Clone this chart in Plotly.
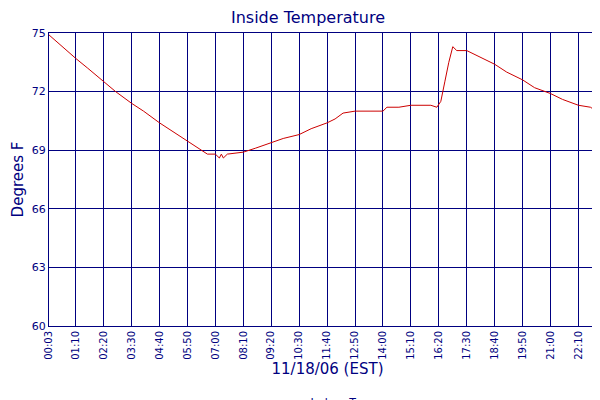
import plotly.graph_objects as go

times = ["00:03","00:30","01:10","01:40","02:20","02:50","03:30","04:00","04:40","05:10","05:50","06:20","06:40","07:00","07:10","07:15","07:20","07:30","08:10","08:40","09:20","09:50","10:30","11:00","11:40","12:00","12:20","12:50","13:30","14:00","14:10","14:40","15:10","15:40","16:00","16:15","16:25","16:35","16:45","16:55","17:05","17:30","18:00","18:40","19:10","19:50","20:20","21:00","21:30","22:10","22:40","22:55","23:15"]
temps = [74.9,74.4,73.7,73.2,72.5,72.0,71.4,71.0,70.4,70.0,69.5,69.1,68.8,68.8,68.6,68.8,68.6,68.8,68.9,69.1,69.4,69.6,69.8,70.1,70.4,70.6,70.9,71.0,71.0,71.0,71.2,71.2,71.3,71.3,71.3,71.2,71.5,72.5,73.5,74.3,74.1,74.1,73.8,73.4,73.0,72.6,72.2,71.9,71.6,71.3,71.2,71.0,71.0]
tick_labels = ["00:03","01:10","02:20","03:30","04:40","05:50","07:00","08:10","09:20","10:30","11:40","12:50","14:00","15:10","16:20","17:30","18:40","19:50","21:00","22:10","23:15"]
y_ticks = [60,63,66,69,72,75]

def mins(t):
    h, m = t.split(":")
    return int(h)*60 + int(m)

navy = "#000080"
fig = go.Figure(go.Scatter(x=[mins(t) for t in times], y=temps, mode="lines",
                           line=dict(color="#cc0000", width=1), name="Indoor Temp"))
fig.update_layout(
    width=600, height=400, margin=dict(l=41, r=2, t=25, b=82, autoexpand=False),
    paper_bgcolor="white", plot_bgcolor="white",
    font=dict(family="DejaVu Sans", color=navy, size=11),
    title=dict(text="Inside Temperature", x=0.5, xanchor="center", y=0.99, yanchor="top",
               font=dict(size=16, color=navy)),
    showlegend=True,
    legend=dict(orientation="h", x=0.5, xanchor="center", y=-0.21, yanchor="top",
                font=dict(size=11, color=navy)),
    xaxis=dict(range=[3, 1399], tickvals=[mins(t) for t in tick_labels], ticktext=tick_labels,
               tickangle=-90, tickfont=dict(size=10), showgrid=True, gridcolor=navy, gridwidth=1,
               showline=True, linecolor=navy, mirror=True, zeroline=False, ticks="", automargin=False,
               title=dict(text="11/18/06 (EST)", font=dict(size=15, color=navy), standoff=4)),
    yaxis=dict(range=[60, 75], tickvals=y_ticks, showgrid=True, gridcolor=navy, gridwidth=1,
               showline=True, linecolor=navy, mirror=True, zeroline=False, ticks="", automargin=False,
               tickfont=dict(size=11),
               title=dict(text="Degrees F", font=dict(size=15, color=navy), standoff=4)),
)
fig.write_html("out.html")
